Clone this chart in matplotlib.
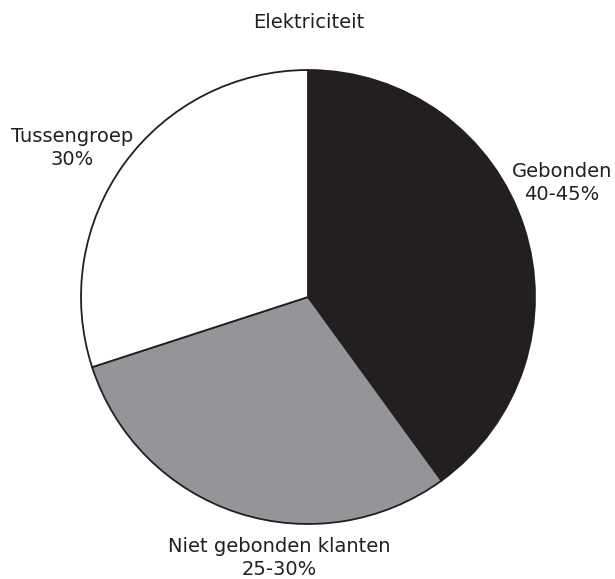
import matplotlib
matplotlib.use('Agg')
import matplotlib.pyplot as plt

# Shares of electricity customers
labels = ['Gebonden\n40-45%', 'Niet gebonden klanten\n25-30%', 'Tussengroep\n30%']
shares = [40, 30, 30]
colors = ['#231f20', '#939598', '#ffffff']
title = 'Elektriciteit'

W, H = 615, 579
CX, CY, R = 308, 297, 227  # pie centre / radius in pixels (y from top)

# label block centres in pixels (y from top)
label_pos = [(562, 183), (279, 558), (72, 148)]

plt.rcParams['font.family'] = ['DejaVu Sans']
ink = '#231f20'

fig = plt.figure(figsize=(W / 100, H / 100), dpi=100)
ax = fig.add_axes([0, 0, 1, 1])
ax.pie(shares, colors=colors, startangle=90, counterclock=False, radius=1,
       wedgeprops={'edgecolor': ink, 'linewidth': 1.3})
ax.set_xlim(-CX / R, (W - CX) / R)
ax.set_ylim(-(H - CY) / R, CY / R)
ax.set_aspect('auto')
ax.axis('off')

for lab, (px, py) in zip(labels, label_pos):
    ax.text((px - CX) / R, (CY - py) / R, lab, ha='center', va='center',
            fontsize=14, color=ink, linespacing=1.25)

fig.text(309 / W, 1 - 23 / H, title, ha='center', va='center', fontsize=14, color=ink)

fig.savefig('out.png', dpi=100, facecolor='white')
